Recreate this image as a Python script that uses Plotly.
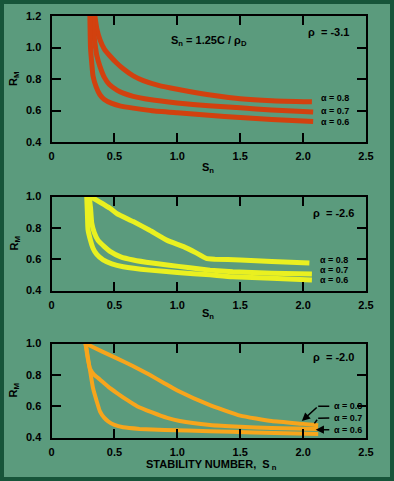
import plotly.graph_objects as go

# ---------------- data ----------------
x_ticks = [0, 0.5, 1.0, 1.5, 2.0, 2.5]
x_tick_text = ["0", "0.5", "1.0", "1.5", "2.0", "2.5"]
y1_ticks = [0.4, 0.6, 0.8, 1.0, 1.2]
y23_ticks = [0.4, 0.6, 0.8, 1.0]

alphas = ["α = 0.8", "α = 0.7", "α = 0.6"]

# panel 1, rho = -3.1
p1_a08_x = [0.345, 0.36, 0.385, 0.42, 0.465, 0.52, 0.57, 0.65, 0.73, 0.85, 1.0, 1.25, 1.5, 1.75, 2.07]
p1_a08_y = [1.2, 1.12, 1.05, 0.99, 0.946, 0.9, 0.865, 0.82, 0.79, 0.76, 0.735, 0.70, 0.675, 0.662, 0.655]
p1_a07_x = [0.325, 0.335, 0.345, 0.36, 0.385, 0.42, 0.46, 0.52, 0.57, 0.65, 0.78, 1.0, 1.25, 1.5, 1.75, 2.08]
p1_a07_y = [1.2, 1.1, 1.03, 0.95, 0.88, 0.81, 0.765, 0.73, 0.71, 0.69, 0.67, 0.648, 0.63, 0.617, 0.603, 0.59]
p1_a06_x = [0.305, 0.31, 0.32, 0.33, 0.355, 0.385, 0.42, 0.48, 0.55, 0.65, 0.8, 1.0, 1.25, 1.5, 1.75, 2.08]
p1_a06_y = [1.2, 1.0, 0.9, 0.82, 0.75, 0.70, 0.67, 0.645, 0.628, 0.615, 0.598, 0.585, 0.57, 0.555, 0.543, 0.53]

# panel 2, rho = -2.6
p2_a08_x = [0.31, 0.465, 0.52, 0.65, 0.78, 0.92, 1.05, 1.15, 1.23, 1.3, 1.5, 1.75, 2.05]
p2_a08_y = [1.0, 0.925, 0.89, 0.84, 0.785, 0.72, 0.68, 0.64, 0.605, 0.60, 0.595, 0.585, 0.575]
p2_a07_x = [0.30, 0.31, 0.32, 0.34, 0.37, 0.42, 0.465, 0.55, 0.65, 0.8, 0.92, 1.1, 1.26, 1.44, 1.75, 2.07]
p2_a07_y = [1.0, 0.93, 0.83, 0.77, 0.72, 0.68, 0.65, 0.615, 0.595, 0.575, 0.563, 0.545, 0.53, 0.52, 0.51, 0.505]
p2_a06_x = [0.28, 0.285, 0.29, 0.31, 0.33, 0.36, 0.41, 0.48, 0.57, 0.78, 1.0, 1.26, 1.44, 1.75, 2.07]
p2_a06_y = [1.0, 0.9, 0.79, 0.72, 0.67, 0.63, 0.595, 0.57, 0.552, 0.53, 0.515, 0.50, 0.488, 0.478, 0.467]

# panel 3, rho = -2.0
p3_a08_x = [0.27, 0.4, 0.52, 0.65, 0.78, 0.9, 1.0, 1.25, 1.5, 1.75, 2.0, 2.12]
p3_a08_y = [1.0, 0.95, 0.905, 0.855, 0.8, 0.745, 0.7, 0.61, 0.54, 0.505, 0.487, 0.478]
p3_a07_x = [0.27, 0.285, 0.306, 0.34, 0.385, 0.45, 0.52, 0.6, 0.68, 0.8, 0.92, 1.02, 1.26, 1.5, 1.75, 2.12]
p3_a07_y = [1.0, 0.92, 0.84, 0.8, 0.77, 0.725, 0.684, 0.64, 0.60, 0.56, 0.525, 0.505, 0.48, 0.468, 0.46, 0.455]
p3_a06_x = [0.27, 0.28, 0.29, 0.31, 0.33, 0.36, 0.385, 0.42, 0.45, 0.5, 0.57, 0.7, 0.9, 1.26, 1.6, 2.12]
p3_a06_y = [1.0, 0.96, 0.907, 0.81, 0.716, 0.63, 0.567, 0.525, 0.503, 0.48, 0.465, 0.455, 0.448, 0.44, 0.432, 0.422]

# ---------------- style ----------------
BG = "#5b9b7d"
FRAME = "#17553a"
C1 = "#d2410f"
C2 = "#eaf020"
C3 = "#f7a51c"
FONT = "Liberation Sans"
W, H = 394, 481

fig = go.Figure()

panels = [
    (1, C1, [(p1_a08_x, p1_a08_y), (p1_a07_x, p1_a07_y), (p1_a06_x, p1_a06_y)], 5),
    (2, C2, [(p2_a08_x, p2_a08_y), (p2_a07_x, p2_a07_y), (p2_a06_x, p2_a06_y)], 5),
    (3, C3, [(p3_a08_x, p3_a08_y), (p3_a07_x, p3_a07_y), (p3_a06_x, p3_a06_y)], 4),
]
for idx, col, series, lw in panels:
    xa = "x" if idx == 1 else f"x{idx}"
    ya = "y" if idx == 1 else f"y{idx}"
    for (sx, sy), name in zip(series, alphas):
        fig.add_trace(go.Scatter(x=sx, y=sy, mode="lines", name=name,
                                 line=dict(color=col, width=lw, shape="spline", smoothing=0.4),
                                 xaxis=xa, yaxis=ya, showlegend=False, cliponaxis=True,
                                 hoverinfo="skip"))

def ydom(top_px, bot_px):
    return [1 - bot_px / H, 1 - top_px / H]

xdom = [51.5 / W, 366 / W]
axis_common = dict(showline=True, mirror="allticks", linecolor="black", linewidth=2,
                   ticks="inside", ticklen=9, tickwidth=2, tickcolor="black",
                   showgrid=False, zeroline=False, automargin=False,
                   tickfont=dict(family=FONT, size=11, color="black", weight="bold"))

layout = dict(
    width=W, height=H,
    margin=dict(l=0, r=0, t=0, b=0, pad=0, autoexpand=False),
    paper_bgcolor=BG, plot_bgcolor=BG,
    font=dict(family=FONT, color="black"),
    hovermode=False,
)
doms = [ydom(16, 142), ydom(196.5, 290.5), ydom(343.5, 437.5)]
yranges = [[0.4, 1.2], [0.4, 1.0], [0.4, 1.0]]
yticks = [y1_ticks, y23_ticks, y23_ticks]
for i in range(3):
    xk = "xaxis" if i == 0 else f"xaxis{i+1}"
    yk = "yaxis" if i == 0 else f"yaxis{i+1}"
    yid = "y" if i == 0 else f"y{i+1}"
    xid = "x" if i == 0 else f"x{i+1}"
    layout[xk] = dict(axis_common, domain=xdom, range=[0, 2.5], anchor=yid,
                      tickvals=x_ticks, ticktext=x_tick_text, ticklabelstandoff=3)
    layout[yk] = dict(axis_common, domain=doms[i], range=yranges[i], anchor=xid,
                      tickvals=yticks[i], tickformat=".1f", ticklabelstandoff=6)
fig.update_layout(**layout)

# dark green frame round the page
fw = 4
fig.add_shape(type="rect", xref="paper", yref="paper",
              x0=(fw / 2) / W, y0=(fw / 2) / H, x1=1 - (fw / 2) / W, y1=1 - (fw / 2) / H,
              line=dict(color=FRAME, width=fw), layer="above")

ann_font = dict(family=FONT, size=11, color="black", weight="bold")
lab_font = dict(family=FONT, size=9, color="black", weight="bold")
anns = []
# y-axis titles
for i, d in enumerate(doms):
    anns.append(dict(text="R<sub>M</sub>", xref="paper", yref="paper", x=14 / W, xanchor="center",
                     y=(d[0] + d[1]) / 2, yanchor="middle", textangle=-90, showarrow=False,
                     font=ann_font))
# x-axis titles
anns.append(dict(text="S<sub>n</sub>", xref="paper", yref="paper", x=208 / W, y=1 - 168 / H,
                 xanchor="center", yanchor="middle", showarrow=False, font=ann_font))
anns.append(dict(text="S<sub>n</sub>", xref="paper", yref="paper", x=208 / W, y=1 - 314 / H,
                 xanchor="center", yanchor="middle", showarrow=False, font=ann_font))
anns.append(dict(text="STABILITY NUMBER,  S<sub> n</sub>", xref="paper", yref="paper", x=212 / W,
                 y=1 - 465 / H, xanchor="center", yanchor="middle", showarrow=False, font=ann_font))
# panel texts
anns.append(dict(text="S<sub>n</sub> = 1.25C / ρ<sub>D</sub>", xref="x", yref="y", x=1.25, y=1.04,
                 showarrow=False, font=ann_font))
anns.append(dict(text="ρ  = -3.1", xref="x", yref="y", x=2.2, y=1.1, showarrow=False, font=ann_font))
anns.append(dict(text="ρ  = -2.6", xref="x2", yref="y2", x=2.24, y=0.895, showarrow=False, font=ann_font))
anns.append(dict(text="ρ  = -2.0", xref="x3", yref="y3", x=2.24, y=0.914, showarrow=False, font=ann_font))
# alpha labels
for t, yv in zip(alphas, [0.68, 0.598, 0.53]):
    anns.append(dict(text=t, xref="x", yref="y", x=2.13, y=yv, xanchor="left", showarrow=False, font=lab_font))
for t, yv in zip(alphas, [0.597, 0.532, 0.468]):
    anns.append(dict(text=t, xref="x2", yref="y2", x=2.12, y=yv, xanchor="left", showarrow=False, font=lab_font))
for t, yv in zip(alphas, [0.60, 0.525, 0.45]):
    anns.append(dict(text=t, xref="x3", yref="y3", x=2.23, y=yv, xanchor="left", showarrow=False, font=lab_font))

# leader lines and arrows in panel 3
def seg(x0, y0, x1, y1, head):
    return dict(text="", xref="x3", yref="y3", axref="x3", ayref="y3", x=x1, y=y1,
                ax=x0, ay=y0, showarrow=True, arrowhead=head, arrowsize=1.1, arrowwidth=1.5,
                arrowcolor="black", standoff=0, startstandoff=0)

anns.append(seg(2.22, 0.60, 2.12, 0.60, 0))
anns.append(seg(2.12, 0.60, 1.99, 0.505, 2))
anns.append(seg(2.22, 0.525, 2.12, 0.523, 0))
anns.append(seg(2.12, 0.523, 2.09, 0.49, 0))
anns.append(seg(2.22, 0.45, 2.10, 0.45, 2))
fig.update_layout(annotations=anns)

fig.write_html("out.html", config={"displayModeBar": False, "staticPlot": True},
               post_script="document.body.style.margin='0px';document.body.style.overflow='hidden';")
